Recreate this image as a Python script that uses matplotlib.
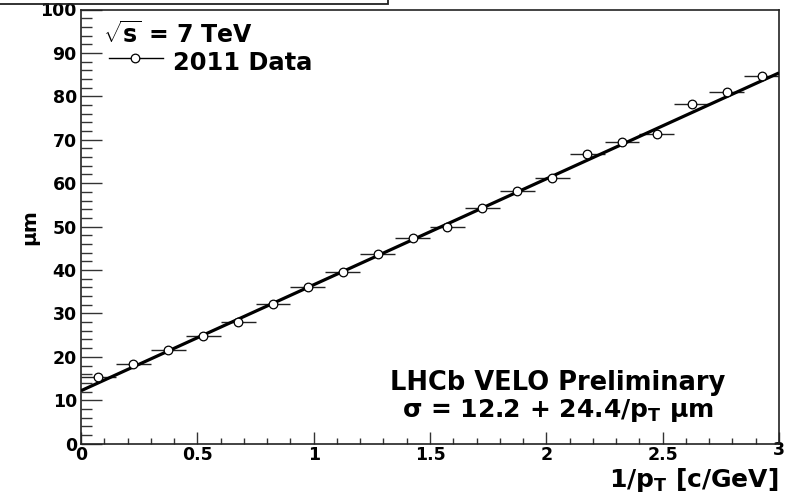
import matplotlib
matplotlib.use("Agg")
import matplotlib.pyplot as plt
from matplotlib.lines import Line2D
from matplotlib.patches import Rectangle
from matplotlib.ticker import MultipleLocator
import matplotlib.transforms as mtransforms

plt.rcParams['font.family'] = ['DejaVu Sans']
plt.rcParams['font.weight'] = 'bold'
plt.rcParams['mathtext.fontset'] = 'custom'
plt.rcParams['mathtext.rm'] = 'DejaVu Sans:bold'
plt.rcParams['mathtext.it'] = 'DejaVu Sans:bold'
plt.rcParams['mathtext.bf'] = 'DejaVu Sans:bold'
plt.rcParams['mathtext.sf'] = 'DejaVu Sans:bold'

# ---- data ----
inv_pt = [0.075, 0.225, 0.375, 0.525, 0.675, 0.825, 0.975, 1.125, 1.275, 1.425,
          1.575, 1.725, 1.875, 2.025, 2.175, 2.325, 2.475, 2.625, 2.775, 2.925]
resolution_um = [15.3, 18.4, 21.6, 24.7, 28.0, 32.2, 36.0, 39.5, 43.7, 47.3,
                 49.9, 54.3, 58.3, 61.1, 66.8, 69.5, 71.4, 78.3, 81.1, 84.7]
bin_half_width = [0.075] * len(inv_pt)
fit_intercept = 12.2
fit_slope = 24.4
fit_range = [0.0, 3.0]
x_tick_values = [0, 0.5, 1, 1.5, 2, 2.5, 3]
x_tick_labels = ["0", "0.5", "1", "1.5", "2", "2.5", "3"]
y_tick_values = [0, 10, 20, 30, 40, 50, 60, 70, 80, 90, 100]
y_tick_labels = ["0", "10", "20", "30", "40", "50", "60", "70", "80", "90", "100"]

W, H = 789, 496
fig = plt.figure(figsize=(W / 100, H / 100), dpi=100)

def fx(px):
    return px / W

def fy(py):
    return 1 - py / H

ax_l, ax_r, ax_t, ax_b = 81, 779, 9.5, 443.7
ax = fig.add_axes([fx(ax_l), fy(ax_b), (ax_r - ax_l) / W, (ax_b - ax_t) / H])

ax.errorbar(inv_pt, resolution_um, xerr=bin_half_width, fmt='none',
            ecolor='#222222', elinewidth=1.0, capsize=0, zorder=2)
fit_y = [fit_intercept + fit_slope * x for x in fit_range]
ax.plot(fit_range, fit_y, color='black', lw=2.3, zorder=3, solid_capstyle='butt')
ax.plot(inv_pt, resolution_um, linestyle='none', marker='o', ms=6.2,
        mfc='white', mec='black', mew=0.9, zorder=4)

ax.set_xlim(0, 3)
ax.set_ylim(0, 100)
ax.set_xticks(x_tick_values)
ax.set_xticklabels(x_tick_labels)
ax.set_yticks(y_tick_values)
ax.set_yticklabels(y_tick_labels)
ax.xaxis.set_minor_locator(MultipleLocator(0.1))
ax.yaxis.set_minor_locator(MultipleLocator(2))

ax.tick_params(axis='x', which='major', direction='in', length=8.6, width=1.0,
               labelsize=12.5, pad=2, top=False, color='#333333')
ax.tick_params(axis='x', which='minor', direction='in', length=4.3, width=1.0,
               top=False, color='#333333')
ax.tick_params(axis='y', which='major', direction='in', length=15, width=1.0,
               labelsize=12.5, pad=3, right=False, color='#333333')
ax.tick_params(axis='y', which='minor', direction='in', length=8, width=1.0,
               right=False, color='#333333')
for lab in ax.get_xticklabels() + ax.get_yticklabels():
    lab.set_fontweight('bold')

# raise the last x label like ROOT does
last = ax.xaxis.get_major_ticks()[-1].label1
last.set_transform(last.get_transform() +
                   mtransforms.ScaledTranslation(0, 4 / 72, fig.dpi_scale_trans))

for s in ax.spines.values():
    s.set_linewidth(1.2)
    s.set_color('#222222')

# axis titles
fig.text(fx(778), fy(486.7), r"1/p$_\mathregular{T}$ [c/GeV]", ha='right', va='baseline',
         fontsize=18, fontweight='bold')
fig.text(fx(30), fy(227), "\u03bcm", rotation=90, ha='center', va='center',
         fontsize=14.5, fontweight='bold')

# legend-like annotations
fig.text(fx(103), fy(43), r"$\sqrt{\mathregular{s}}$ = 7 TeV", ha='left', va='baseline',
         fontsize=17, fontweight='bold')
fig.add_artist(Line2D([fx(109), fx(163)], [fy(58), fy(58)], color='black', lw=1.0))
fig.add_artist(Line2D([fx(135)], [fy(58)], marker='o', ms=6.2, mfc='white',
                      mec='black', mew=0.9, linestyle='none'))
fig.text(fx(173), fy(70), "2011 Data", ha='left', va='baseline',
         fontsize=17.4, fontweight='bold')

fig.text(fx(558), fy(390), "LHCb VELO Preliminary", ha='center', va='baseline',
         fontsize=18.5, fontweight='bold')
fig.text(fx(558), fy(416.7), r"$\sigma$ = 12.2 + 24.4/p$_\mathregular{T}$ $\mu$m",
         ha='center', va='baseline', fontsize=18, fontweight='bold')

# cut-off title box at top
fig.add_artist(Rectangle((fx(-2), fy(4)), (388 + 2) / W, 10 / H, fill=False,
                         edgecolor='#222222', lw=1.3, transform=fig.transFigure))

fig.savefig("out.png", dpi=100)
